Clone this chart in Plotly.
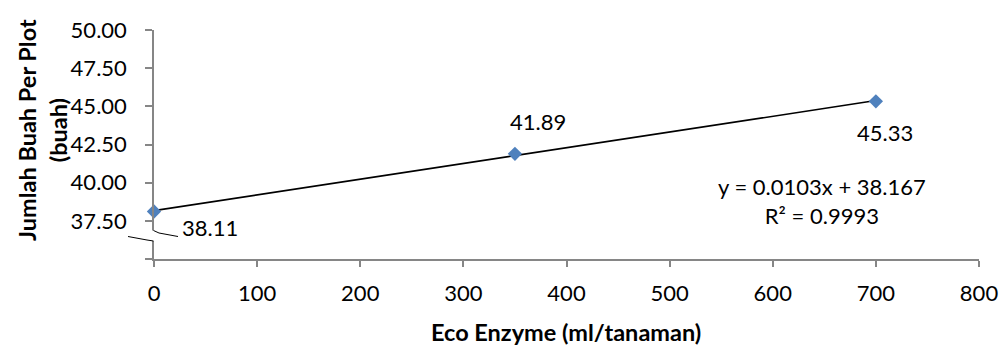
import plotly.graph_objects as go

# Data
x_vals = [0, 350, 700]
y_vals = [38.11, 41.89, 45.33]
labels = ["38.11", "41.89", "45.33"]
trend_x = [0, 700]
trend_y = [38.167, 45.377]
eq_text = "y = 0.0103x + 38.167<br>R² = 0.9993"
y_ticks = [35, 37.5, 40, 42.5, 45, 47.5, 50]
y_ticktext = ["", "37.50", "40.00", "42.50", "45.00", "47.50", "50.00"]
x_ticks = [0, 100, 200, 300, 400, 500, 600, 700, 800]
x_title = "<b>Eco Enzyme (ml/tanaman)</b>"
y_title = "<b>Jumlah Buah Per Plot<br>(buah)</b>"

W, H = 1004, 347
ML, MR, MT, MB = 154, 25, 30, 88
PW, PH = W - ML - MR, H - MT - MB

def px(x):
    return (x - ML) / PW

def py(y):
    return 1 - (y - MT) / PH

FONT = "Lato"
fig = go.Figure()

fig.add_trace(go.Scatter(x=trend_x, y=trend_y, mode="lines",
                         line=dict(color="black", width=1.6),
                         showlegend=False, hoverinfo="skip"))
fig.add_trace(go.Scatter(x=x_vals, y=y_vals, mode="markers",
                         marker=dict(symbol="diamond", size=11, color="#4F81BD",
                                     line=dict(width=0)),
                         showlegend=False, cliponaxis=False))

offsets = [(56, 16), (23, -32), (9, 31)]
for xv, yv, t, (dx, dy) in zip(x_vals, y_vals, labels, offsets):
    fig.add_annotation(x=xv, y=yv, text=t, showarrow=True, arrowcolor="rgba(0,0,0,0)",
                       ax=dx, ay=dy, font=dict(family=FONT, size=22, color="black"))

fig.add_annotation(x=px(822), y=py(201), xref="paper", yref="paper", text=eq_text,
                   showarrow=False, align="center", xanchor="center", yanchor="middle",
                   font=dict(family=FONT, size=22, color="black"))

# axis titles as annotations
fig.add_annotation(x=px(42), y=py(130), xref="paper", yref="paper", text=y_title,
                   showarrow=False, align="center", xanchor="center", yanchor="middle",
                   textangle=-90, font=dict(family=FONT, size=23.5, color="black"))
fig.add_annotation(x=px(566), y=py(332), xref="paper", yref="paper", text=x_title,
                   showarrow=False, align="center", xanchor="center", yanchor="middle",
                   font=dict(family=FONT, size=23.5, color="black"))

# axis break
gap_top, gap_bot = 230.5, 241
fig.add_shape(type="rect", xref="paper", yref="paper",
              x0=px(150), x1=px(157), y0=py(gap_bot), y1=py(gap_top),
              fillcolor="white", line=dict(width=0), layer="above")
fig.add_shape(type="path", xref="paper", yref="paper",
              path=f"M {px(153.5)},{py(gap_top)} L {px(159)},{py(233)} L {px(178)},{py(236.5)}",
              line=dict(color="black", width=1), layer="above")
fig.add_shape(type="path", xref="paper", yref="paper",
              path=f"M {px(128)},{py(236.5)} L {px(147)},{py(240)} L {px(153.5)},{py(gap_bot)}",
              line=dict(color="black", width=1), layer="above")

fig.update_layout(
    width=W, height=H,
    margin=dict(l=ML, r=MR, t=MT, b=MB),
    paper_bgcolor="white", plot_bgcolor="white",
    font=dict(family=FONT, size=22, color="black"),
    xaxis=dict(range=[0, 800], tickvals=x_ticks, showgrid=False, zeroline=False,
               showline=True, linecolor="#868686", linewidth=1.5,
               ticks="outside", ticklen=6, tickcolor="#868686", tickwidth=1.5,
               ticklabelstandoff=8, automargin=False),
    yaxis=dict(range=[35, 50], tickvals=y_ticks, ticktext=y_ticktext,
               showgrid=False, zeroline=False,
               showline=True, linecolor="#868686", linewidth=1.5,
               ticks="outside", ticklen=7, tickcolor="#868686", tickwidth=1.5,
               ticklabelstandoff=14, automargin=False),
)

fig.write_html("out.html")
